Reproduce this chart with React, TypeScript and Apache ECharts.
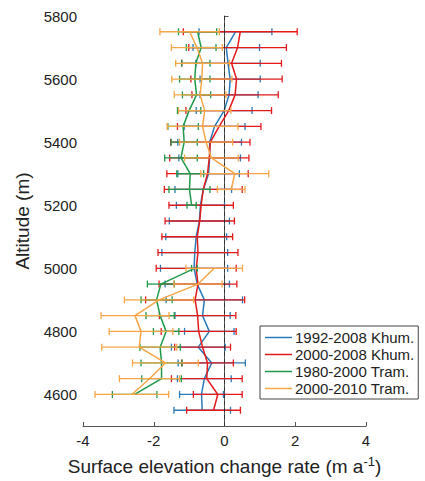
import React, { useEffect, useRef } from "react";
import * as echarts from "echarts";

const altitudes = [5750, 5700, 5650, 5600, 5550, 5500, 5450, 5400, 5350, 5300, 5250, 5200, 5150, 5100, 5050, 5000, 4950, 4900, 4850, 4800, 4750, 4700, 4650, 4600, 4550];

const seriesNames = ["1992-2008 Khum.", "2000-2008 Khum.", "1980-2000 Tram.", "2000-2010 Tram."];
const seriesColors = ["#2a7ab9", "#e31a1c", "#1f9a4b", "#f6a646"];

const blueMean = [0.31, 0.05, 0.10, 0.16, 0.13, -0.01, -0.28, -0.42, -0.42, -0.45, -0.60, -0.68, -0.71, -0.80, -0.84, -0.86, -0.77, -0.57, -0.62, -0.43, -0.74, -0.36, -0.57, -0.65, -0.63];
const blueErr = [1.03, 0.94, 0.91, 0.85, 0.82, 0.79, 0.86, 0.90, 0.87, 0.87, 0.80, 0.68, 0.85, 0.86, 0.93, 0.95, 0.91, 1.08, 0.78, 0.70, 0.76, 0.95, 0.76, 0.62, 0.80];

const redMean = [0.445, 0.37, 0.20, 0.34, 0.30, 0.12, -0.15, -0.40, -0.43, -0.48, -0.60, -0.66, -0.70, -0.77, -0.75, -0.80, -0.75, -0.83, -0.76, -0.73, -0.62, -0.48, -0.50, -0.19, -0.31];
const redErr = [1.61, 1.38, 1.41, 1.29, 1.22, 1.21, 1.18, 1.12, 1.12, 1.15, 1.10, 0.91, 0.98, 1.00, 1.13, 1.13, 1.10, 1.40, 1.08, 1.06, 0.79, 0.73, 1.00, 0.69, 0.76];

const greenMean = [-0.76, -0.66, -0.81, -0.84, -0.79, -1.00, -1.17, -1.14, -1.23, -0.97, -0.99, -0.93, null, null, null, -0.85, -1.80, -1.92, -1.82, -1.65, -1.82, -1.78, -1.78, -2.54, null];
const greenErr = [0.54, 0.42, 0.40, 0.43, 0.40, 0.33, 0.43, 0.37, 0.46, 0.38, 0.58, 0.13, null, null, null, 0.08, 0.38, 0.44, 0.40, 0.36, 0.57, 0.58, 0.56, 0.63, null];

const orangeMean = [-0.985, -0.78, -0.62, -0.64, -0.69, -0.56, -0.62, -0.52, -0.37, 0.29, 0.19, null, null, null, null, -0.29, -0.75, -1.85, -2.53, -2.36, -2.41, -1.67, -2.12, -2.62, null];
const orangeErr = [0.84, 0.72, 0.76, 0.85, 0.73, 0.74, 1.00, 0.75, 0.76, 0.96, 0.39, null, null, null, null, 0.80, 0.68, 0.98, 0.96, 0.90, 1.06, 0.93, 0.85, 1.04, null];

const xTicks = [-4, -2, 0, 2, 4];
const yTicks = [4600, 4800, 5000, 5200, 5400, 5600, 5800];

const means = [blueMean, redMean, greenMean, orangeMean];
const errs = [blueErr, redErr, greenErr, orangeErr];

const FONT = "Arial, 'Liberation Sans', sans-serif";

export default function App() {
  const ref = useRef<HTMLDivElement>(null);
  useEffect(() => {
    if (!ref.current) return;
    const chart = echarts.init(ref.current, null, { renderer: "svg" });
    const series: any[] = [];
    means.forEach((m, i) => {
      const color = seriesColors[i];
      const ebData = altitudes
        .map((a, k) => (m[k] === null ? null : [m[k], errs[i][k], a]))
        .filter((d) => d !== null);
      series.push({
        type: "custom",
        name: "eb" + i,
        data: ebData,
        encode: { x: 0, y: 2 },
        renderItem: (params: any, api: any) => {
          const x = api.value(0);
          const e = api.value(1);
          const y = api.value(2);
          const p1 = api.coord([x - e, y]);
          const p2 = api.coord([x + e, y]);
          const h = 3.5;
          const st = { stroke: color, lineWidth: 1.3 };
          return {
            type: "group",
            children: [
              { type: "line", shape: { x1: p1[0], y1: p1[1], x2: p2[0], y2: p2[1] }, style: st },
              { type: "line", shape: { x1: p1[0], y1: p1[1] - h, x2: p1[0], y2: p1[1] + h }, style: st },
              { type: "line", shape: { x1: p2[0], y1: p2[1] - h, x2: p2[0], y2: p2[1] + h }, style: st },
            ],
          };
        },
        z: 2 + i * 2,
      });
      series.push({
        type: "line",
        name: seriesNames[i],
        data: altitudes.map((a, k) => [m[k] === null ? "-" : m[k], a]),
        symbol: "none",
        showSymbol: false,
        connectNulls: false,
        lineStyle: { color, width: 1.5 },
        itemStyle: { color },
        z: 3 + i * 2,
        ...(i === 0
          ? {
              markLine: {
                silent: true,
                symbol: "none",
                label: { show: false },
                lineStyle: { color: "#333", type: [4, 3], width: 1 },
                data: [{ xAxis: 0 }],
              },
            }
          : {}),
      });
    });

    chart.setOption({
      animation: false,
      backgroundColor: "#fff",
      textStyle: { fontFamily: FONT },
      grid: { left: 83, right: 59, top: 16, bottom: 51 },
      xAxis: {
        type: "value",
        min: -4,
        max: 4,
        interval: 2,
        name: "Surface elevation change rate (m a{sup|-1})",
        nameLocation: "middle",
        nameGap: 29,
        nameTextStyle: {
          fontSize: 19,
          color: "#222",
          fontFamily: FONT,
          rich: { sup: { fontSize: 13, verticalAlign: "top", padding: [0, 0, 10, 0], color: "#222" } },
        },
        axisLine: { show: true, lineStyle: { color: "#555", width: 1 } },
        axisTick: { show: true, inside: true, length: 4, lineStyle: { color: "#555" }, customValues: xTicks },
        axisLabel: { fontSize: 15, color: "#222", margin: 7, customValues: xTicks },
        splitLine: { show: false },
      },
      yAxis: {
        type: "value",
        min: 4500,
        max: 5800,
        name: "Altitude (m)",
        nameLocation: "middle",
        nameGap: 51,
        nameTextStyle: { fontSize: 19, color: "#222", fontFamily: FONT },
        axisLine: { show: true, lineStyle: { color: "#555", width: 1 } },
        axisTick: { show: true, inside: true, length: 4, lineStyle: { color: "#555" }, customValues: yTicks },
        axisLabel: {
          fontSize: 15,
          color: "#222",
          margin: 6,
          customValues: yTicks,
          formatter: (v: number) => String(v),
        },
        splitLine: { show: false },
      },
      legend: {
        data: seriesNames,
        orient: "vertical",
        left: 260,
        top: 326,
        backgroundColor: "#fff",
        borderColor: "#444",
        borderWidth: 1,
        borderRadius: 0,
        padding: [4, 4, 3, 5],
        itemGap: 2,
        icon: "rect",
        itemWidth: 27,
        itemHeight: 1.5,
        textStyle: { fontSize: 15, color: "#222", fontFamily: FONT, padding: [0, 0, 0, -2] },
      },
      series,
    });
    return () => chart.dispose();
  }, []);
  return (
    <div
      ref={ref}
      style={{ position: "fixed", left: 0, top: 0, width: 425, height: 481, background: "#fff" }}
    />
  );
}
